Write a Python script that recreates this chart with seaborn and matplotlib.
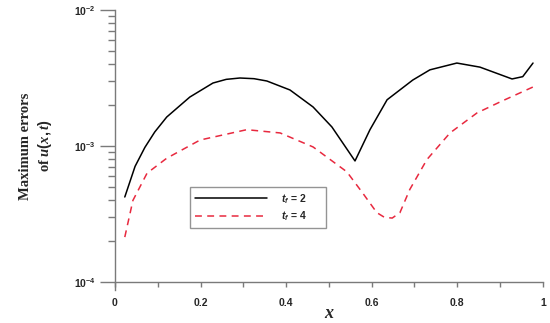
import numpy as np
import pandas as pd
import matplotlib
matplotlib.use("Agg")
import matplotlib.pyplot as plt
import seaborn as sns
from matplotlib.ticker import LogLocator, MultipleLocator

# values (log10 of the maximum error)
x_tf2 = [0.023, 0.047, 0.070, 0.093, 0.121, 0.175, 0.229, 0.260, 0.292, 0.325, 0.355,
         0.409, 0.463, 0.507, 0.561, 0.596, 0.636, 0.696, 0.736, 0.799, 0.853,
         0.928, 0.953, 0.977]
log_tf2 = [-3.375, -3.15, -3.01, -2.897, -2.787, -2.64, -2.537, -2.51, -2.50, -2.505, -2.522,
           -2.588, -2.713, -2.86, -3.11, -2.88, -2.66, -2.515, -2.44, -2.39, -2.42,
           -2.507, -2.49, -2.39]

x_tf4 = [0.023, 0.042, 0.075, 0.121, 0.199, 0.308, 0.386, 0.463, 0.542, 0.579,
         0.612, 0.630, 0.648, 0.666, 0.689, 0.729, 0.783, 0.846, 0.900, 0.977]
log_tf4 = [-3.67, -3.40, -3.20, -3.09, -2.956, -2.88, -2.904, -3.007, -3.19, -3.346,
           -3.49, -3.525, -3.53, -3.49, -3.32, -3.10, -2.904, -2.757, -2.676, -2.566]

labels = [r"$\mathsf{t_f}$ = 2", r"$\mathsf{t_f}$ = 4"]

df2 = pd.DataFrame({"x": x_tf2, "err": 10 ** np.array(log_tf2)})
df4 = pd.DataFrame({"x": x_tf4, "err": 10 ** np.array(log_tf4)})

sns.set_style("ticks")
plt.rcParams["font.family"] = ["Liberation Sans", "DejaVu Sans"]
plt.rcParams["mathtext.fontset"] = "custom"
plt.rcParams["mathtext.rm"] = "Liberation Sans:bold"
plt.rcParams["mathtext.sf"] = "Liberation Sans:italic:bold"
plt.rcParams["mathtext.it"] = "Liberation Serif:italic:bold"

fig = plt.figure(figsize=(5.5, 3.23), dpi=100)
ax = fig.add_axes([0.209, 0.127, 0.778, 0.842])

sns.lineplot(data=df2, x="x", y="err", ax=ax, color="black", lw=1.1, label=labels[0])
sns.lineplot(data=df4, x="x", y="err", ax=ax, color="#e8293f", lw=1.1,
             linestyle=(0, (4.5, 3.5)), label=labels[1])

ax.set_yscale("log")
ax.set_xlim(0, 1)
ax.set_ylim(1e-4, 1e-2)

ax.xaxis.set_minor_locator(MultipleLocator(0.1))
ax.set_xticks([0, 0.2, 0.4, 0.6, 0.8, 1])
ax.set_xticklabels(["0", "0.2", "0.4", "0.6", "0.8", "1"])
ax.yaxis.set_major_locator(LogLocator(base=10, numticks=5))
ax.yaxis.set_minor_locator(LogLocator(base=10, subs=np.arange(2, 10), numticks=20))

gray = "#7a7a7a"
for s in ["top", "right"]:
    ax.spines[s].set_visible(False)
for s in ["left", "bottom"]:
    ax.spines[s].set_color(gray)
    ax.spines[s].set_linewidth(1.0)
ax.spines["left"].set_bounds(8.7e-5, 1e-2)

ax.tick_params(axis="x", which="both", direction="out", length=3.5, width=1, color=gray,
               labelsize=7.5, pad=8)
ax.tick_params(axis="y", which="major", direction="out", length=11, width=1, color=gray,
               labelsize=7.5, pad=3)
ax.tick_params(axis="y", which="minor", direction="out", length=5, width=1, color=gray)
for t in ax.get_xticklabels() + ax.get_yticklabels():
    t.set_fontweight("bold")

ax.set_xlabel("x", fontsize=13, fontstyle="italic", fontweight="bold",
              family="Liberation Serif", labelpad=-2)
ax.set_ylabel("Maximum errors\nof " + r"$\mathit{u(x,t)}$", fontsize=10.5,
              family="Liberation Serif", fontweight="bold", labelpad=14, linespacing=1.3)

leg = ax.legend(loc="lower left", bbox_to_anchor=(0.175, 0.199, 0.318, 0.132),
                mode="expand", frameon=True, fancybox=False, fontsize=7.5,
                handlelength=7.0, handletextpad=1.3, borderpad=0.45,
                labelspacing=0.35, borderaxespad=0)
leg.get_frame().set_edgecolor(gray)
leg.get_frame().set_linewidth(1.0)
for t in leg.get_texts():
    t.set_fontweight("bold")

fig.savefig("out.png", dpi=100)
